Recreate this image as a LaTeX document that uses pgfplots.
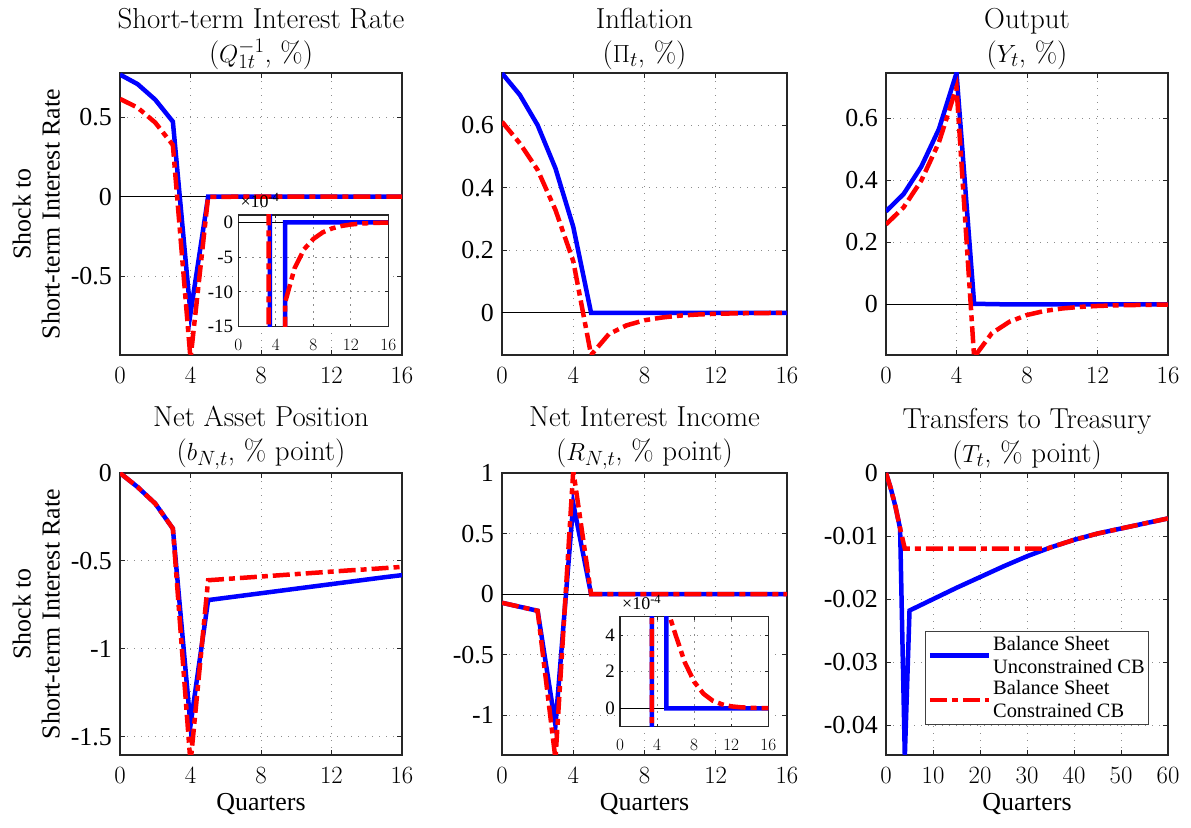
\documentclass[border=0pt]{standalone}
\usepackage{fontspec}
\usepackage{pgfplots}
\pgfplotsset{compat=1.18}
\usepackage{pgfplotstable}
\newfontfamily\tnr{Liberation Serif}

% ---------------- data ----------------
\pgfplotstableread{
t b r
0 0.768 0.615
1 0.708 0.560
2 0.610 0.466
3 0.472 0.325
4 -0.735 -1.02
5 0 -0.00115
6 0 -0.00066
7 0 -0.00039
8 0 -0.00024
9 0 -0.000145
10 0 -0.000088
11 0 -0.000053
12 0 -0.000032
13 0 -0.000019
14 0 -0.000012
15 0 -0.000007
16 0 -0.000004
}\rate
\pgfplotstableread{
t b r
0 0.766 0.611
1 0.697 0.542
2 0.600 0.457
3 0.462 0.329
4 0.275 0.165
5 0 -0.135
6 0 -0.068
7 0 -0.040
8 0 -0.024
9 0 -0.015
10 0 -0.009
11 0 -0.0055
12 0 -0.0033
13 0 -0.002
14 0 -0.0012
15 0 -0.0007
16 0 -0.0004
}\infl
\pgfplotstableread{
t b r
0 0.300 0.258
1 0.356 0.313
2 0.444 0.399
3 0.565 0.522
4 0.746 0.700
5 0.002 -0.170
6 0.001 -0.093
7 0 -0.056
8 0 -0.034
9 0 -0.021
10 0 -0.013
11 0 -0.008
12 0 -0.005
13 0 -0.003
14 0 -0.002
15 0 -0.0012
16 0 -0.0007
}\outp
\pgfplotstableread{
t b r
0 0 0
1 -0.080 -0.080
2 -0.174 -0.174
3 -0.316 -0.316
4 -1.434 -1.65
5 -0.723 -0.610
6 -0.710 -0.603
7 -0.697 -0.596
8 -0.684 -0.589
9 -0.671 -0.582
10 -0.658 -0.575
11 -0.645 -0.568
12 -0.632 -0.561
13 -0.619 -0.554
14 -0.606 -0.548
15 -0.593 -0.541
16 -0.581 -0.534
}\nap
\pgfplotstableread{
t b r
0 -0.071 -0.071
1 -0.104 -0.104
2 -0.137 -0.137
3 -1.08 -1.36
4 0.747 1.02
5 0 0.00056
6 0 0.00040
7 0 0.00025
8 0 0.000145
9 0 0.00008
10 0 0.000042
11 0 0.000022
12 0 0.000011
13 0 0.000006
14 0 0.000003
15 0 0.0000015
16 0 0.0000008
}\nii
\pgfplotstableread{
t b
0 0
1 -0.0024
2 -0.0053
3 -0.0088
4 -0.0450
5 -0.0218
10 -0.0200
15 -0.0182
20 -0.0165
25 -0.0148
30 -0.0132
35 -0.0118
40 -0.0106
45 -0.0096
50 -0.0088
55 -0.0080
60 -0.0072
}\trb
\pgfplotstableread{
t r
0 0
1 -0.0024
2 -0.0053
3 -0.0088
4 -0.0120
34.3 -0.0120
35 -0.0118
40 -0.0106
45 -0.0096
50 -0.0088
55 -0.0080
60 -0.0072
}\trr
% inset data (units of 1e-4, as seen in the zoomed windows)
\pgfplotstableread{
t b
4.998 -16
5 0
6 0
8 0
10 0
12 0
14 0
16 0
}\rateinsb
\pgfplotstableread{
t r
4.9996 -16
5 -11.5
6 -6.6
7 -3.9
8 -2.4
9 -1.45
10 -0.88
11 -0.53
12 -0.32
13 -0.19
14 -0.12
15 -0.07
16 -0.04
}\rateinsr
\pgfplotstableread{
t b
4.9992 6
5 0
6 0
8 0
10 0
12 0
14 0
16 0
}\niiinsb
\pgfplotstableread{
t r
4.99995 6
5 5.6
6 4.0
7 2.5
8 1.45
9 0.8
10 0.42
11 0.22
12 0.11
13 0.06
14 0.03
15 0.015
16 0.008
}\niiinsr

\pgfplotsset{
  base/.style={
    scale only axis, anchor=south west,
    tick align=inside, tick pos=both,
    xticklabel pos=lower, yticklabel pos=left,
    scaled ticks=false,
    grid=major,
    grid style={dash pattern=on 1.4bp off 5.6bp, line width=1bp, black!45},
    axis line style={black!85, line width=1.1bp},
    every tick/.style={black!85, line width=0.9bp},
  },
  mainax/.style={base,
    width=282bp, height=282bp,
    xmin=0, xmax=16, xtick={0,4,8,12,16},
    major tick length=5bp,
    xticklabel style={font=\tnr\fontsize{26}{26}\selectfont, anchor=north, inner sep=0pt, yshift=-12bp},
    yticklabel style={font=\tnr\fontsize{26}{26}\selectfont, anchor=east, inner sep=0pt, xshift=-8bp},
    title style={at={(0.5,1)}, anchor=south, inner sep=0pt, yshift=-3bp, align=center, font=\fontsize{29}{34}\selectfont},
  },
  insetax/.style={base,
    xmin=0, xmax=16, xtick={0,4,8,12,16},
    major tick length=3bp,
    axis background/.style={fill=white},
    xticklabel style={font=\tnr\fontsize{19}{19}\selectfont, anchor=north, inner sep=0pt, yshift=-13bp},
    yticklabel style={font=\tnr\fontsize{19}{19}\selectfont, anchor=east, inner sep=0pt, xshift=-5bp},
    title={×10\textsuperscript{-4}},
    title style={at={(0,1)}, anchor=south west, inner sep=0pt, xshift=2bp, yshift=1bp, font=\tnr\fontsize{18}{18}\selectfont},
  },
  ylab/.style={ylabel={Shock to\\Short-term Interest Rate},
    ylabel style={at={(axis description cs:-0.2128,0.5)}, anchor=south, inner sep=0pt, align=center, font=\tnr\fontsize{26}{29}\selectfont}},
  xlab/.style={xlabel={Quarters},
    xlabel style={at={(axis description cs:0.5,0)}, anchor=north, inner sep=0pt, yshift=-38bp, font=\tnr\fontsize{26}{26}\selectfont}},
  bl/.style={blue, line width=4.5bp, no markers},
  rd/.style={red, line width=4.5bp, no markers, dash pattern=on 17bp off 5bp on 6bp off 5bp},
  zl/.style={black, line width=0.9bp, no markers, forget plot},
}

\begin{document}
\begin{tikzpicture}[x=1bp,y=1bp]
\useasboundingbox (0,0) rectangle (1191,828);

% ---- Panel 1
\begin{axis}[mainax, ylab, at={(120bp,473bp)},
  ymin=-0.996, ymax=0.778, ytick={-0.5,0,0.5}, yticklabels={-0.5,0,0.5},
  title={Short-term Interest Rate\\($Q_{1t}^{-1}$, \%)}]
\addplot[zl] coordinates {(0,0) (16,0)};
\addplot[bl] table[x=t,y=b] {\rate};
\addplot[rd] table[x=t,y=r] {\rate};
\end{axis}
\begin{axis}[insetax, at={(238.3bp,501.3bp)}, width=150bp, height=111.7bp,
  ymin=-15, ymax=1.05, ytick={-15,-10,-5,0}, yticklabels={-15,-10,-5,0}]
\addplot[zl] coordinates {(0,0) (16,0)};
\addplot[bl] coordinates {(3.36,2) (3.361,-16)};
\addplot[bl] table[x=t,y=b] {\rateinsb};
\addplot[rd] coordinates {(3.24,2) (3.241,-16)};
\addplot[rd] table[x=t,y=r] {\rateinsr};
\end{axis}

% ---- Panel 2
\begin{axis}[mainax, at={(502bp,473bp)}, width=285bp,
  ymin=-0.135, ymax=0.767, ytick={0,0.2,0.4,0.6}, yticklabels={0,0.2,0.4,0.6},
  title={Inflation\\($\Pi_t$, \%)}]
\addplot[zl] coordinates {(0,0) (16,0)};
\addplot[bl] table[x=t,y=b] {\infl};
\addplot[rd] table[x=t,y=r] {\infl};
\end{axis}

% ---- Panel 3
\begin{axis}[mainax, at={(886bp,473bp)},
  ymin=-0.163, ymax=0.746, ytick={0,0.2,0.4,0.6}, yticklabels={0,0.2,0.4,0.6},
  title={Output\\($Y_t$, \%)}]
\addplot[zl] coordinates {(0,0) (16,0)};
\addplot[bl] table[x=t,y=b] {\outp};
\addplot[rd] table[x=t,y=r] {\outp};
\end{axis}

% ---- Panel 4
\begin{axis}[mainax, ylab, xlab, at={(120bp,73bp)},
  ymin=-1.604, ymax=0, ytick={-1.5,-1,-0.5,0}, yticklabels={-1.5,-1,-0.5,0},
  title={Net Asset Position\\($b_{N,t}$, \% point)}]
\addplot[bl] table[x=t,y=b] {\nap};
\addplot[rd] table[x=t,y=r] {\nap};
\end{axis}

% ---- Panel 5
\begin{axis}[mainax, xlab, at={(502bp,73bp)}, width=285bp,
  ymin=-1.327, ymax=1, ytick={-1,-0.5,0,0.5,1}, yticklabels={-1,-0.5,0,0.5,1},
  title={Net Interest Income\\($R_{N,t}$, \% point)}]
\addplot[zl] coordinates {(0,0) (16,0)};
\addplot[bl] table[x=t,y=b] {\nii};
\addplot[rd] table[x=t,y=r] {\nii};
\end{axis}
\begin{axis}[insetax, at={(620bp,101.3bp)}, width=148.3bp, height=110bp,
  ymin=-1, ymax=5, ytick={0,2,4}, yticklabels={0,2,4}]
\addplot[zl] coordinates {(0,0) (16,0)};
\addplot[bl] coordinates {(3.45,-2) (3.451,6)};
\addplot[bl] table[x=t,y=b] {\niiinsb};
\addplot[rd] coordinates {(3.43,-2) (3.431,6)};
\addplot[rd] table[x=t,y=r] {\niiinsr};
\end{axis}

% ---- Panel 6
\begin{axis}[mainax, xlab, at={(886bp,73bp)},
  xmin=0, xmax=60, xtick={0,10,20,30,40,50,60},
  ymin=-0.0447, ymax=0, ytick={-0.04,-0.03,-0.02,-0.01,0},
  yticklabels={-0.04,-0.03,-0.02,-0.01,0},
  title={Transfers to Treasury\\($T_t$, \% point)},
  legend style={at={(0.139,0.441)}, anchor=north west, draw=black!75, line width=0.9bp,
    fill=white, font=\tnr\fontsize{20.5}{23}\selectfont, inner xsep=2bp, inner ysep=3bp,
    row sep=2bp, cells={anchor=west, align=left}},
  legend image code/.code={\draw[#1] (0bp,0bp) -- (59bp,0bp);},
  legend cell align=left]
\addplot[bl] table[x=t,y=b] {\trb};
\addlegendentry{Balance Sheet\\Unconstrained CB}
\addplot[rd] table[x=t,y=r] {\trr};
\addlegendentry{Balance Sheet\\Constrained CB}
\end{axis}

\end{tikzpicture}
\end{document}
